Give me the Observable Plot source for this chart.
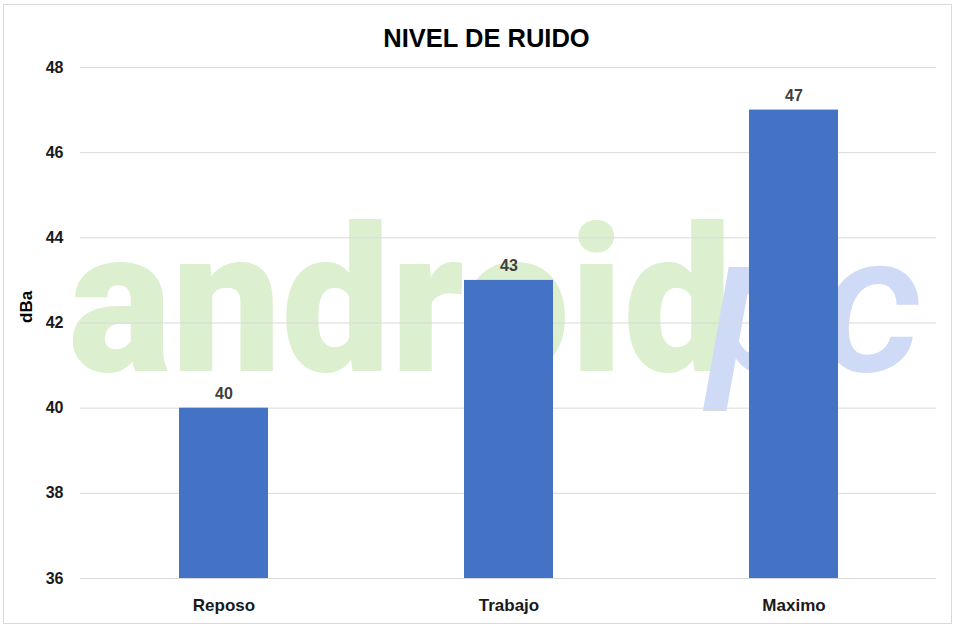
<!DOCTYPE html>
<html>
<head>
<meta charset="utf-8">
<script src="https://cdn.jsdelivr.net/npm/d3@7"></script>
<script src="https://cdn.jsdelivr.net/npm/@observablehq/plot@0.6"></script>
<style>
  html, body { margin: 0; padding: 0; background: #fff; }
  #wrap { position: relative; width: 955px; height: 628px; }
  #border { position: absolute; left: 3px; top: 4px; width: 947px; height: 618px; border: 1px solid #d9d9d9; pointer-events: none; }
  svg { font-family: "Liberation Sans", Arial, sans-serif; }
</style>
</head>
<body>
<div id="wrap"><div id="border"></div></div>
<script>
const title = "NIVEL DE RUIDO";
const yLabel = "dBa";
const categories = ["Reposo", "Trabajo", "Maximo"];
const values = [40, 43, 47];
const yTicks = [36, 38, 40, 42, 44, 46, 48];
const watermarkA = "android";
const watermarkB = "pc";

const data = categories.map((c, i) => ({category: c, value: values[i]}));
const yMin = yTicks[0], yMax = yTicks[yTicks.length - 1];

const chart = Plot.plot({
  width: 955,
  height: 628,
  marginLeft: 80,
  marginRight: 19,
  marginTop: 67,
  marginBottom: 50,
  style: {fontFamily: "'Liberation Sans', Arial, sans-serif", background: "transparent", overflow: "visible"},
  x: {domain: categories, paddingInner: 0.688, paddingOuter: 0.344, label: null},
  y: {domain: [yMin, yMax], ticks: yTicks, label: null},
  marks: [
    Plot.text([watermarkA], {text: d => d, className: "wm-a", frameAnchor: "bottom-left", dx: -12, dy: -208, textAnchor: "start", lineAnchor: "bottom", fontSize: 202, fontWeight: 900, fontFamily: "Roboto", fill: "#dcefcf"}),
    Plot.text([watermarkB], {text: d => d, className: "wm-b", frameAnchor: "bottom-left", dx: 628, dy: -208, textAnchor: "start", lineAnchor: "bottom", fontSize: 196, fontWeight: 500, fontStyle: "italic", fontFamily: "Roboto", fill: "#cfdaf7"}),
    Plot.gridY(yTicks, {stroke: "#d9d9d9", strokeOpacity: 1, strokeWidth: 1}),
    Plot.barY(data, {x: "category", y1: yMin, y2: "value", fill: "#4472C4"}),
    Plot.text(data, {x: "category", y: "value", text: d => String(d.value), lineAnchor: "bottom", dy: -9, fontSize: 16, fontWeight: "bold", fill: "#404040"}),
    Plot.axisY(yTicks, {tickSize: 0, tickPadding: 17, fontSize: 16, fontWeight: "bold", fill: "#1a1a1a", label: null}),
    Plot.text([yLabel], {text: d => d, frameAnchor: "left", dx: -54, rotate: -90, lineAnchor: "middle", fontSize: 17, fontWeight: "bold", fill: "#000"}),
    Plot.axisX({tickSize: 0, tickPadding: 20, fontSize: 17, fontWeight: "bold", fill: "#1a1a1a", label: null}),
    Plot.text([title], {text: d => d, frameAnchor: "top", dx: -22, dy: -21, lineAnchor: "bottom", fontSize: 25.5, fontWeight: "bold", fill: "#000"})
  ]
});
d3.select(chart).selectAll(".wm-a text").attr("textLength", 664).attr("lengthAdjust", "spacingAndGlyphs");
d3.select(chart).selectAll(".wm-b text").attr("textLength", 214).attr("lengthAdjust", "spacingAndGlyphs");
document.getElementById("wrap").prepend(chart);
</script>
</body>
</html>
